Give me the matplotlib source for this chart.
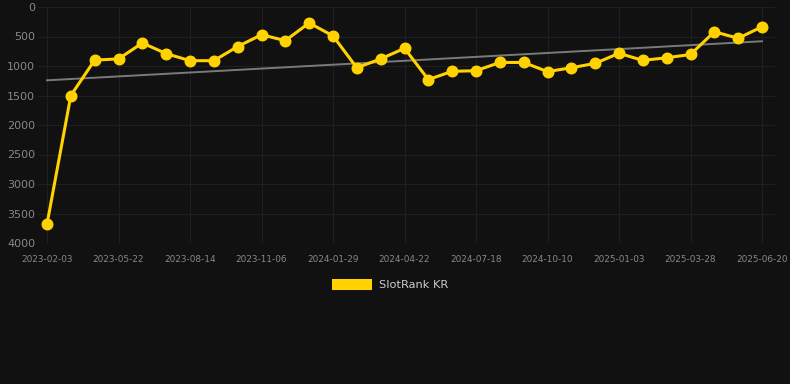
import matplotlib
matplotlib.use("Agg")
import matplotlib.pyplot as plt
import numpy as np
from matplotlib.patches import Rectangle

dates = ["2023-02-03", "2023-03-10", "2023-04-15", "2023-05-22", "2023-06-19", "2023-07-17",
         "2023-08-14", "2023-09-11", "2023-10-09", "2023-11-06", "2023-12-04", "2024-01-01",
         "2024-01-29", "2024-02-26", "2024-03-25", "2024-04-22", "2024-05-20", "2024-06-18",
         "2024-07-18", "2024-08-14", "2024-09-12", "2024-10-10", "2024-11-07", "2024-12-06",
         "2025-01-03", "2025-01-31", "2025-02-28", "2025-03-28", "2025-04-25", "2025-05-23",
         "2025-06-20"]
ranks = [3680, 1500, 900, 880, 610, 790, 910, 910, 670, 470, 570, 270,
         490, 1030, 880, 700, 1230, 1090, 1080, 940, 940, 1095, 1030, 955,
         785, 905, 860, 805, 420, 530, 335]
series_label = "SlotRank KR"

bg = "#111111"
yellow = "#FFD200"
W, H = 790, 384
fig = plt.figure(figsize=(W / 100, H / 100), dpi=100, facecolor=bg)
left, right, top, bottom = 38, 775, 7, 243
ax = fig.add_axes([left / W, 1 - bottom / H, (right - left) / W, (bottom - top) / H])
ax.set_facecolor(bg)

x = np.arange(len(ranks))
px_per = (762 - 47) / 30
ax.set_xlim(-(47 - left) / px_per, 30 + (right - 762) / px_per)
ax.set_ylim(4000, 0)

# trend line (linear regression)
coef = np.polyfit(x, ranks, 1)
ax.plot([x[0], x[-1]], np.polyval(coef, [x[0], x[-1]]), color="#7a7a7a", lw=1.4, zorder=2)

ax.plot(x, ranks, color=yellow, lw=2.2, marker="o", markersize=7.6, zorder=3,
        solid_joinstyle="round")

ax.set_yticks(np.arange(0, 4001, 500))
ax.set_yticklabels([str(v) for v in range(0, 4001, 500)])
tick_idx = list(range(0, len(dates), 3))
ax.set_xticks(tick_idx)
ax.set_xticklabels([dates[i] for i in tick_idx])
ax.tick_params(axis="y", colors="#888888", labelsize=8, length=0, pad=2)
ax.tick_params(axis="x", colors="#888888", labelsize=6.4, length=0, pad=9)
ax.grid(True, color="#1f1f1f", lw=0.8)
for s in ax.spines.values():
    s.set_visible(False)

# legend
fig.patches.append(Rectangle((332 / W, 1 - 290 / H), 40 / W, 11 / H, transform=fig.transFigure,
                             facecolor=yellow, edgecolor="none"))
fig.text(379 / W, 1 - 284.5 / H, series_label, color="#cccccc", fontsize=8.2, va="center", ha="left")

fig.savefig("out.png", dpi=100, facecolor=bg)
